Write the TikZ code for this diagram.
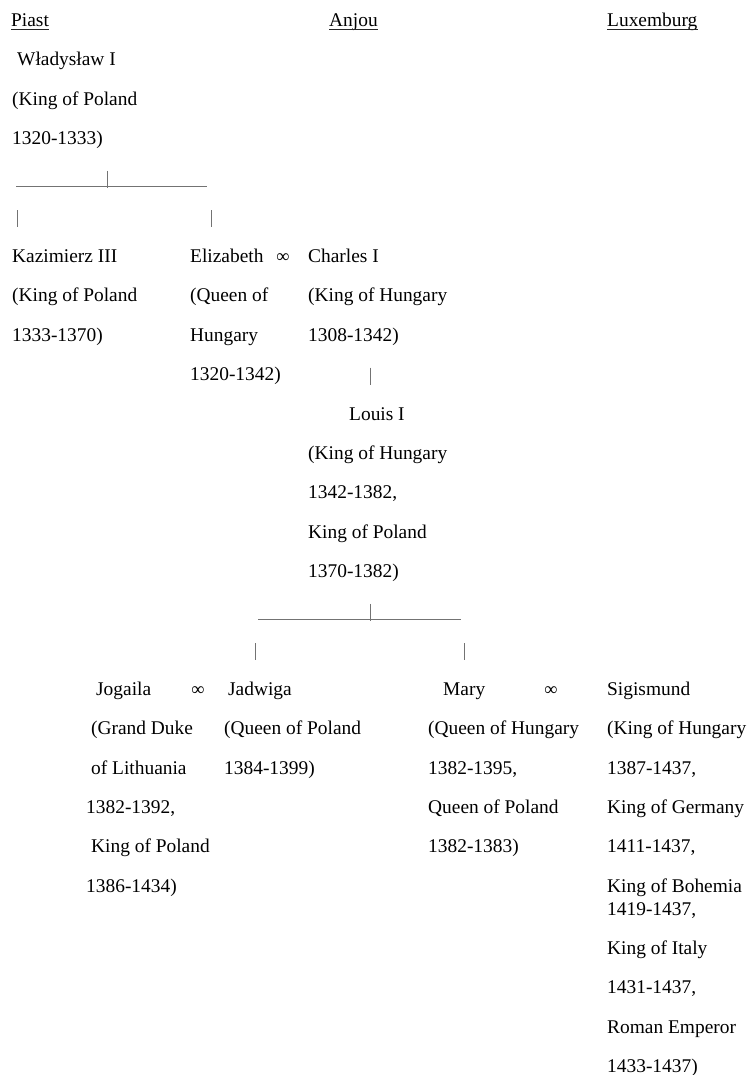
\documentclass[tikz,border=0pt]{standalone}
\usepackage{fontspec}
\setmainfont{Liberation Serif}
\begin{document}
\begin{tikzpicture}[x=1pt,y=-1pt,
    every node/.style={inner sep=0pt,anchor=base west,font=\fontsize{19.4}{23.3}\selectfont},
    marry/.style={anchor=base,font=\fontsize{18.5}{20}\selectfont},
    line/.style={black!55,line width=0.9pt},
    uline/.style={black!85,line width=0.9pt}]
  \useasboundingbox[fill=white] (0,0) rectangle (750,1075);
  % houses
  \path
    (11,26.5) node (piast){Piast}
    (329,26.5) node (anjou){Anjou}
    (607,26.5) node (luxemburg){Luxemburg};
  \foreach \h in {piast,anjou,luxemburg}
    \draw[uline] ([yshift=-2.6pt]\h.base west) -- ([yshift=-2.6pt]\h.base east);
  % Wladyslaw I
  \path
    (17,65.85) node (wl1){Władysław I}
    (12,105.2) node (wl2){(King of Poland}
    (12,144.55) node (wl3){1320-1333)};
  \coordinate (s1l) at (16,186.8);
  \coordinate (s1r) at (207,186.8);
  \coordinate (s1t) at (107,170.9);
  \coordinate (s1b) at (107,187.9);
  \coordinate (k0t) at (17,210.25);
  \coordinate (k0b) at (17,227.25);
  \coordinate (e0t) at (211,210.25);
  \coordinate (e0b) at (211,227.25);
  \draw[line] (s1l) -- (s1r);
  \draw[line] (s1t) -- (s1b);
  \draw[line] (k0t) -- (k0b);
  \draw[line] (e0t) -- (e0b);
  % Kazimierz III, Elizabeth, Charles I
  \path
    (12,262.6) node (ka1){Kazimierz III}
    (12,301.95) node (ka2){(King of Poland}
    (12,341.3) node (ka3){1333-1370)}
    (190,262.6) node (el1){Elizabeth}
    (190,301.95) node (el2){(Queen of}
    (190,341.3) node (el3){Hungary}
    (190,380.65) node (el4){1320-1342)}
    (283,262.6) node[marry] (m1){∞}
    (308,262.6) node (ch1){Charles I}
    (308,301.95) node (ch2){(King of Hungary}
    (308,341.3) node (ch3){1308-1342)};
  \coordinate (c0t) at (370,367.65);
  \coordinate (c0b) at (370,384.65);
  \draw[line] (c0t) -- (c0b);
  % Louis I
  \path
    (349,420) node (lo1){Louis I}
    (308,459.35) node (lo2){(King of Hungary}
    (308,498.7) node (lo3){1342-1382,}
    (308,538.05) node (lo4){King of Poland}
    (308,577.4) node (lo5){1370-1382)};
  \coordinate (s2l) at (258,619.65);
  \coordinate (s2r) at (461,619.65);
  \coordinate (s2t) at (370,603.75);
  \coordinate (s2b) at (370,620.75);
  \coordinate (j0t) at (255,643.1);
  \coordinate (j0b) at (255,660.1);
  \coordinate (ma0t) at (464,643.1);
  \coordinate (ma0b) at (464,660.1);
  \draw[line] (s2l) -- (s2r);
  \draw[line] (s2t) -- (s2b);
  \draw[line] (j0t) -- (j0b);
  \draw[line] (ma0t) -- (ma0b);
  % Jogaila, Jadwiga
  \path
    (96,695.45) node (jo1){Jogaila}
    (91,734.8) node (jo2){(Grand Duke}
    (91,774.15) node (jo3){of Lithuania}
    (86,813.5) node (jo4){1382-1392,}
    (91,852.85) node (jo5){King of Poland}
    (86,892.2) node (jo6){1386-1434)}
    (198,695.45) node[marry] (m2){∞}
    (228,695.45) node (ja1){Jadwiga}
    (224,734.8) node (ja2){(Queen of Poland}
    (224,774.15) node (ja3){1384-1399)};
  % Mary, Sigismund
  \path
    (443,695.45) node (ma1){Mary}
    (428,734.8) node (ma2){(Queen of Hungary}
    (428,774.15) node (ma3){1382-1395,}
    (428,813.5) node (ma4){Queen of Poland}
    (428,852.85) node (ma5){1382-1383)}
    (551,695.45) node[marry] (m3){∞}
    (607,695.45) node (si1){Sigismund}
    (607,734.8) node (si2){(King of Hungary}
    (607,774.15) node (si3){1387-1437,}
    (607,813.5) node (si4){King of Germany}
    (607,852.85) node (si5){1411-1437,}
    (607,892.2) node (si6){King of Bohemia}
    (607,915.2) node (si7){1419-1437,}
    (607,954.55) node (si8){King of Italy}
    (607,993.9) node (si9){1431-1437,}
    (607,1033.25) node (si10){Roman Emperor}
    (607,1072.6) node (si11){1433-1437)};
\end{tikzpicture}
\end{document}
